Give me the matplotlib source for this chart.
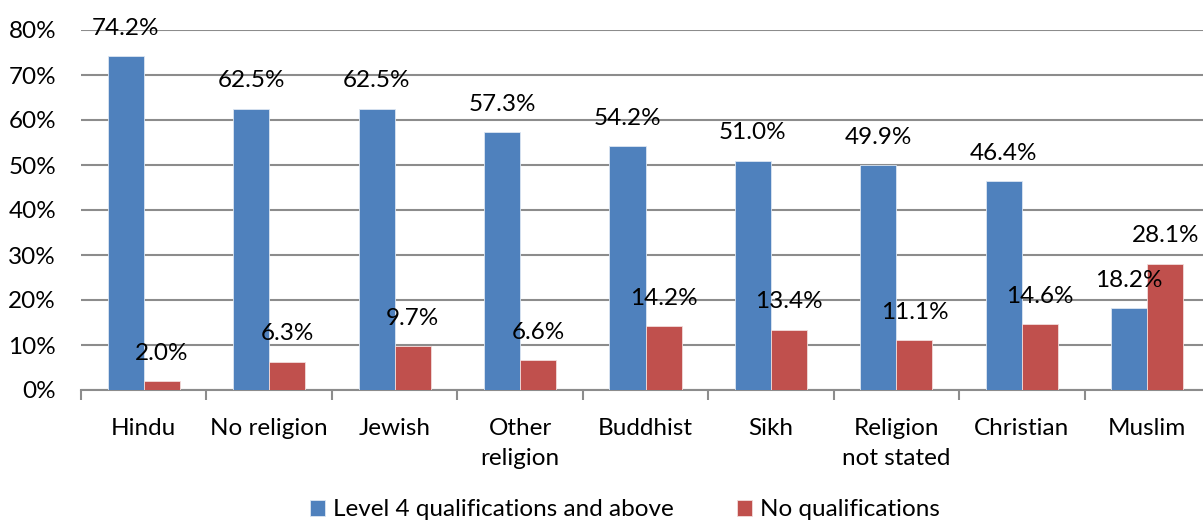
import numpy as np
import matplotlib
matplotlib.use("Agg")
import matplotlib.pyplot as plt

plt.rcParams['font.family'] = ['Lato', 'DejaVu Sans']

categories = ["Hindu", "No religion", "Jewish", "Other\nreligion", "Buddhist",
              "Sikh", "Religion\nnot stated", "Christian", "Muslim"]
level4 = [74.2, 62.5, 62.5, 57.3, 54.2, 51.0, 49.9, 46.4, 18.2]
noqual = [2.0, 6.3, 9.7, 6.6, 14.2, 13.4, 11.1, 14.6, 28.1]

blue = "#4F81BD"
red = "#C0504D"
grid = "#8C8C8C"
fs = 17.5

fig = plt.figure(figsize=(12.03, 5.24), dpi=100)
ax = fig.add_axes([81 / 1203, 1 - 390 / 524, 1129 / 1203, 360 / 524])

x = np.arange(len(categories))
w = 0.287
b1 = ax.bar(x - w / 2, level4, w, color=blue, edgecolor="#DCE6F2", linewidth=0.6,
            label="Level 4 qualifications and above", zorder=3)
b2 = ax.bar(x + w / 2, noqual, w, color=red, edgecolor="#F2DCDB", linewidth=0.6,
            label="No qualifications", zorder=3)

for bars, vals in ((b1, level4), (b2, noqual)):
    for r, v in zip(bars, vals):
        ax.annotate(f"{v:.1f}%", (r.get_x() + r.get_width() / 2, v),
                    xytext=(0, 20), textcoords="offset points",
                    ha="center", va="center", fontsize=fs, zorder=4)

ax.set_xlim(-0.5, len(categories) - 0.5)
ax.set_ylim(0, 80)
ax.set_yticks(np.arange(0, 81, 10))
ax.set_yticklabels([f"{t}%" for t in range(0, 81, 10)], fontsize=fs)
ax.yaxis.grid(True, color=grid, linewidth=1.5, zorder=0)
ax.tick_params(axis="y", length=0, pad=18)

ax.set_xticks(x)
ax.set_xticklabels(categories, fontsize=fs, linespacing=1.55, va="top")
ax.tick_params(axis="x", which="major", length=0, pad=20)
ax.set_xticks(np.arange(-0.5, len(categories), 1), minor=True)
ax.tick_params(axis="x", which="minor", length=7, width=1.5, color=grid, direction="out")

for s in ("top", "right", "left"):
    ax.spines[s].set_visible(False)
ax.spines["bottom"].set_color(grid)
ax.spines["bottom"].set_linewidth(1.5)

fig.legend(handles=[b1, b2], loc="center", bbox_to_anchor=(625 / 1203, 1 - 510 / 524),
           ncol=2, frameon=False, fontsize=fs, handlelength=0.6, handleheight=0.6,
           columnspacing=2.6, handletextpad=0.35)

fig.savefig("out.png", dpi=100)
